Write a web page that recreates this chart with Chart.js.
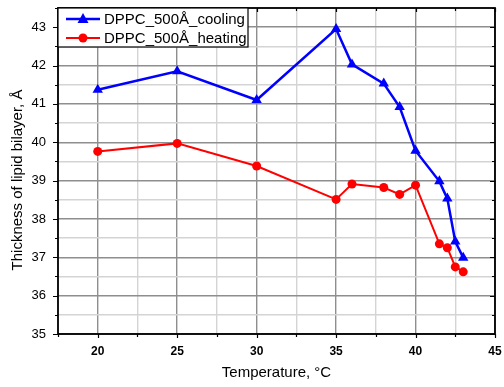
<!DOCTYPE html>
<html>
<head>
<meta charset="utf-8">
<script src="https://cdn.jsdelivr.net/npm/chart.js@4/dist/chart.umd.min.js"></script>
<style>
  html, body { margin: 0; padding: 0; background: #fff; }
  #wrap { width: 504px; height: 387px; position: relative; }
</style>
</head>
<body>
<div id="wrap"><canvas id="myChart"></canvas></div>
<script>
// temperatures, °C
const coolingTemp = [20, 25, 30, 35, 36, 38, 39, 40, 41.5, 42, 42.5, 43];
const coolingThickness = [41.37, 41.85, 41.1, 42.95, 42.03, 41.53, 40.92, 39.78, 38.98, 38.53, 37.41, 36.99];
const heatingTemp = [20, 25, 30, 35, 36, 38, 39, 40, 41.5, 42, 42.5, 43];
const heatingThickness = [39.76, 39.97, 39.38, 38.51, 38.91, 38.82, 38.64, 38.88, 37.35, 37.25, 36.75, 36.62];
const seriesLabels = ['DPPC_500Å_cooling', 'DPPC_500Å_heating'];
const yTitle = 'Thickness of lipid bilayer, Å';

const FONT = 'Arial, "Liberation Sans", sans-serif';

function toPoints(xs, ys) {
    return xs.map((x, i) => ({ x: x, y: ys[i] }));
}

// frame, ticks on all four sides, y title and the boxed legend
const framePlugin = {
    id: 'frame',
    afterDraw(chart) {
        const { ctx, chartArea: a, scales } = chart;
        ctx.save();
        ctx.strokeStyle = '#000';
        ctx.lineWidth = 1.2;

        scales.x.ticks.forEach(t => {
            const px = Math.round(scales.x.getPixelForValue(t.value)) + 0.5;
            const len = t.value % 5 === 0 ? 4 : 3;
            ctx.beginPath();
            ctx.moveTo(px, a.bottom); ctx.lineTo(px, a.bottom + len);
            ctx.moveTo(px, a.top); ctx.lineTo(px, a.top + len);
            ctx.stroke();
        });
        scales.y.ticks.forEach(t => {
            const py = Math.round(scales.y.getPixelForValue(t.value)) + 0.5;
            const len = Number.isInteger(t.value) ? 5 : 3;
            ctx.beginPath();
            ctx.moveTo(a.left - len, py); ctx.lineTo(a.left, py);
            ctx.moveTo(a.right - len, py); ctx.lineTo(a.right, py);
            ctx.stroke();
        });

        ctx.lineWidth = 1.8;
        ctx.strokeRect(a.left, a.top, a.right - a.left, a.bottom - a.top);

        // y axis title, a bit below the middle as in the original
        ctx.save();
        ctx.translate(18, 180);
        ctx.rotate(-Math.PI / 2);
        ctx.fillStyle = '#000';
        ctx.font = '15px ' + FONT;
        ctx.textAlign = 'center';
        ctx.textBaseline = 'middle';
        ctx.fillText(yTitle, 0, 0);
        ctx.restore();

        // legend box
        const bx = a.left, by = a.top, bw = 190, bh = 39;
        ctx.fillStyle = '#fff';
        ctx.fillRect(bx, by, bw, bh);
        ctx.lineWidth = 1.2;
        ctx.strokeRect(bx, by, bw, bh);
        chart.data.datasets.forEach((ds, i) => {
            const y = by + 11 + i * 19;
            ctx.strokeStyle = ds.borderColor;
            ctx.lineWidth = ds.borderWidth;
            ctx.beginPath();
            ctx.moveTo(bx + 8, y); ctx.lineTo(bx + 42, y);
            ctx.stroke();
            ctx.fillStyle = ds.backgroundColor;
            ctx.beginPath();
            if (ds.pointStyle === 'triangle') {
                ctx.moveTo(bx + 25, y - 6); ctx.lineTo(bx + 30.5, y + 4); ctx.lineTo(bx + 19.5, y + 4);
                ctx.closePath();
            } else {
                ctx.arc(bx + 25, y, 4.5, 0, Math.PI * 2);
            }
            ctx.fill();
            ctx.fillStyle = '#000';
            ctx.font = '15px ' + FONT;
            ctx.textBaseline = 'middle';
            ctx.fillText(ds.label, bx + 46, y + 1);
        });
        ctx.restore();
    }
};

const chartData = {
    datasets: [
        {
            label: seriesLabels[0],
            data: toPoints(coolingTemp, coolingThickness),
            showLine: true,
            borderColor: '#0000ff',
            backgroundColor: '#0000ff',
            borderWidth: 2.5,
            pointStyle: 'triangle',
            pointRadius: 6,
            pointBorderWidth: 0,
            order: 1
        },
        {
            label: seriesLabels[1],
            data: toPoints(heatingTemp, heatingThickness),
            showLine: true,
            borderColor: '#ff0000',
            backgroundColor: '#ff0000',
            borderWidth: 2,
            pointStyle: 'circle',
            pointRadius: 4.5,
            pointBorderWidth: 0,
            order: 2
        }
    ]
};

const config = {
    type: 'scatter',
    data: chartData,
    plugins: [framePlugin],
    options: {
        responsive: true,
        maintainAspectRatio: false,
        animation: false,
        layout: {
            padding: { top: 8, right: 9, left: 0, bottom: 0 }
        },
        plugins: {
            legend: { display: false },
            tooltip: { enabled: false }
        },
        scales: {
            x: {
                type: 'linear',
                min: 17.5,
                max: 45,
                afterFit: s => { s.height = 53; s.paddingLeft = 0; s.paddingRight = 0; },
                border: { display: false },
                grid: {
                    drawTicks: false,
                    lineWidth: 1.4,
                    color: c => (c.tick && c.tick.value % 5 === 0) ? '#8e8e8e' : '#d4d4d4'
                },
                ticks: {
                    stepSize: 2.5,
                    padding: 10,
                    autoSkip: false,
                    maxRotation: 0,
                    color: '#000',
                    font: { family: FONT, size: 12, weight: 'bold' },
                    callback: v => (v % 5 === 0 ? v : '')
                },
                title: {
                    display: true,
                    text: 'Temperature, °C',
                    color: '#000',
                    font: { family: FONT, size: 15 },
                    padding: { top: 0, bottom: 5 }
                }
            },
            y: {
                min: 35,
                max: 43.5,
                afterFit: s => { s.width = 58; s.paddingTop = 0; s.paddingBottom = 0; },
                border: { display: false },
                grid: {
                    drawTicks: false,
                    lineWidth: 1.4,
                    color: c => (c.tick && Number.isInteger(c.tick.value)) ? '#8e8e8e' : '#d4d4d4'
                },
                ticks: {
                    stepSize: 0.5,
                    padding: 12,
                    autoSkip: false,
                    color: '#000',
                    font: { family: FONT, size: 13 },
                    callback: v => (Number.isInteger(v) ? v : '')
                },
                title: { display: false }
            }
        }
    }
};

const ctx = document.getElementById('myChart').getContext('2d');

if (ctx) {
    new Chart(ctx, config);
}
</script>
</body>
</html>
